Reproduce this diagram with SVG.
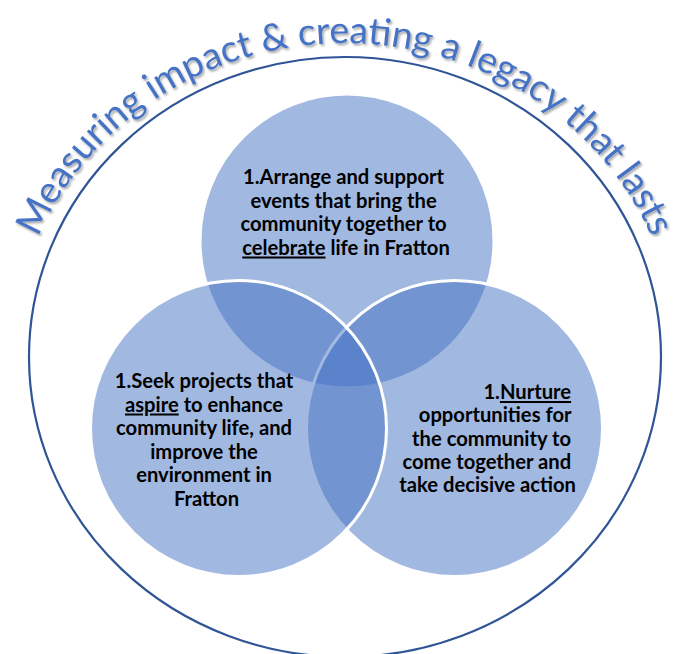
<svg xmlns="http://www.w3.org/2000/svg" width="676" height="654" viewBox="0 0 676 654">
  <defs>
    <filter id="shadow" x="-10%" y="-10%" width="120%" height="120%">
      <feDropShadow dx="1.5" dy="2" stdDeviation="1.2" flood-color="#000" flood-opacity="0.35"/>
    </filter>
    <path id="titleArc" d="M 13 357 A 332 314 0 0 1 677 357"/>
  </defs>
  <style>
    .venn { fill: #4472C4; fill-opacity: 0.5; stroke: #FFFFFF; stroke-width: 3; }
    .label { font-family: Lato, "Liberation Sans", sans-serif; font-weight: 700; font-size: 20.2px; fill: #000; }
    .title { font-family: Lato, "Liberation Sans", sans-serif; font-size: 37.5px; fill: #4472C4; }
    .outline { fill: none; stroke: #2F5597; stroke-width: 2.2; }
  </style>
  <rect width="676" height="654" fill="#FFFFFF"/>
  <g id="frame">
    <ellipse class="outline" cx="345" cy="357" rx="316" ry="300"/>
  </g>
  <g id="title" filter="url(#shadow)">
    <text class="title" text-anchor="middle"><textPath href="#titleArc" startOffset="50%" textLength="768" lengthAdjust="spacing">Measuring impact &amp; creating a legacy that lasts</textPath></text>
  </g>
  <g id="node-celebrate">
    <circle class="venn" cx="347" cy="241" r="147"/>
    <text class="label" text-anchor="middle">
      <tspan x="346" y="184">1.Arrange and support</tspan>
      <tspan x="346" y="207.5">events that bring the</tspan>
      <tspan x="346" y="231">community together to</tspan>
      <tspan x="346" y="254.5"><tspan text-decoration="underline">celebrate</tspan> life in Fratton</tspan>
    </text>
  </g>
  <g id="node-nurture">
    <circle class="venn" cx="454.5" cy="428.5" r="148"/>
    <text class="label" text-anchor="end">
      <tspan x="576" y="399">1.<tspan text-decoration="underline">Nurture</tspan></tspan>
      <tspan x="576" y="422">opportunities for</tspan>
      <tspan x="576" y="445.5">the community to</tspan>
      <tspan x="576" y="469">come together and</tspan>
      <tspan x="576" y="492">take decisive action</tspan>
    </text>
  </g>
  <g id="node-aspire">
    <circle class="venn" cx="238.5" cy="428.5" r="148"/>
    <text class="label" text-anchor="middle">
      <tspan x="206.5" y="388">1.Seek projects that</tspan>
      <tspan x="206.5" y="411.5"><tspan text-decoration="underline">aspire</tspan> to enhance</tspan>
      <tspan x="206.5" y="435">community life, and</tspan>
      <tspan x="206.5" y="458.5">improve the</tspan>
      <tspan x="206.5" y="482">environment in</tspan>
      <tspan x="206.5" y="505.5">Fratton</tspan>
    </text>
  </g>
</svg>
